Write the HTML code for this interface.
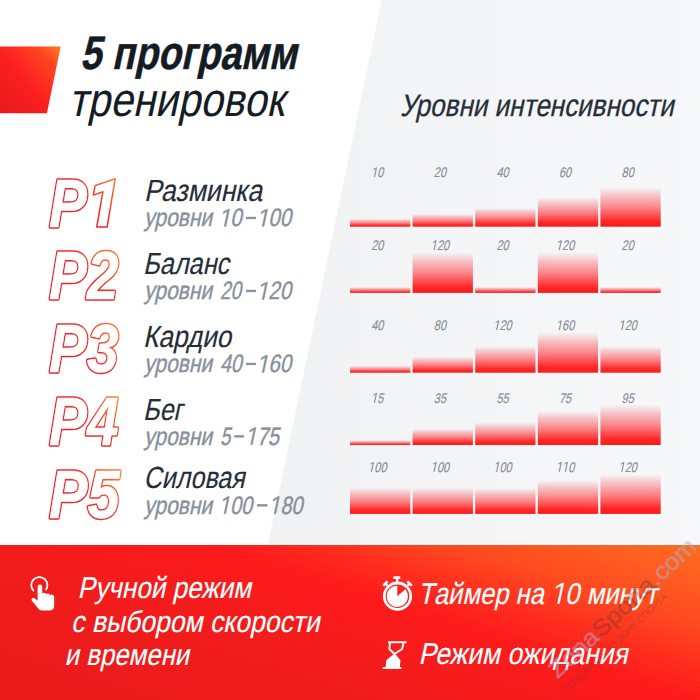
<!DOCTYPE html>
<html><head><meta charset="utf-8">
<style>
html,body{margin:0;padding:0;width:700px;height:700px;overflow:hidden;background:#fff}
svg{display:block}
text{font-family:"Liberation Sans",sans-serif}
</style></head><body>
<svg width="700" height="700" viewBox="0 0 700 700">
<defs>
  <linearGradient id="bgGray" x1="0" y1="0" x2="1" y2="0">
    <stop offset="0" stop-color="#f1f2f4"/>
    <stop offset="1" stop-color="#f7f8fa"/>
  </linearGradient>
  <linearGradient id="redTL" x1="0" y1="1" x2="1" y2="0">
    <stop offset="0" stop-color="#e61a1c"/>
    <stop offset="0.45" stop-color="#fb1f1f"/>
    <stop offset="0.8" stop-color="#ff4422"/>
    <stop offset="1" stop-color="#ff7a24"/>
  </linearGradient>
  <linearGradient id="band" gradientUnits="userSpaceOnUse" x1="590.2" y1="887.7" x2="700" y2="545">
    <stop offset="0" stop-color="#ea1b1b"/>
    <stop offset="0.306" stop-color="#f01c1c"/>
    <stop offset="0.583" stop-color="#fd1b1b"/>
    <stop offset="0.661" stop-color="#ff2a1e"/>
    <stop offset="0.789" stop-color="#ff4a20"/>
    <stop offset="1" stop-color="#ff6e22"/>
  </linearGradient>
  <linearGradient id="bar" x1="0" y1="1" x2="0" y2="0">
    <stop offset="0" stop-color="#ff1818" stop-opacity="1"/>
    <stop offset="0.15" stop-color="#ff1e1e" stop-opacity="0.95"/>
    <stop offset="0.5" stop-color="#ff2a2e" stop-opacity="0.55"/>
    <stop offset="0.8" stop-color="#f83a40" stop-opacity="0.27"/>
    <stop offset="0.96" stop-color="#f04a50" stop-opacity="0.07"/>
    <stop offset="1" stop-color="#f04a50" stop-opacity="0.02"/>
  </linearGradient>
  <linearGradient id="pg1" gradientUnits="userSpaceOnUse" x1="55" y1="230.5" x2="118" y2="176.3"><stop offset="0" stop-color="#ec1f26"/><stop offset="0.55" stop-color="#f02a2a"/><stop offset="1" stop-color="#ff8230"/></linearGradient>
  <linearGradient id="pg2" gradientUnits="userSpaceOnUse" x1="55" y1="303.0" x2="118" y2="249.1"><stop offset="0" stop-color="#ec1f26"/><stop offset="0.55" stop-color="#f02a2a"/><stop offset="1" stop-color="#ff8230"/></linearGradient>
  <linearGradient id="pg3" gradientUnits="userSpaceOnUse" x1="55" y1="376.2" x2="118" y2="322.3"><stop offset="0" stop-color="#ec1f26"/><stop offset="0.55" stop-color="#f02a2a"/><stop offset="1" stop-color="#ff8230"/></linearGradient>
  <linearGradient id="pg4" gradientUnits="userSpaceOnUse" x1="55" y1="449.0" x2="118" y2="395.1"><stop offset="0" stop-color="#ec1f26"/><stop offset="0.55" stop-color="#f02a2a"/><stop offset="1" stop-color="#ff8230"/></linearGradient>
  <linearGradient id="pg5" gradientUnits="userSpaceOnUse" x1="55" y1="522.0" x2="118" y2="468.0"><stop offset="0" stop-color="#ec1f26"/><stop offset="0.55" stop-color="#f02a2a"/><stop offset="1" stop-color="#ff8230"/></linearGradient>
</defs>
<rect width="700" height="700" fill="#fff"/>
<polygon points="381.7,0 700,0 700,545 267.8,545" fill="url(#bgGray)"/>
<polygon points="0,46.4 60.7,46.4 46.9,113.3 0,113.3" fill="url(#redTL)"/>
<text transform="translate(80,68.5) skewX(-12)" font-size="47" fill="#151b23" font-weight="bold" textLength="216.5" lengthAdjust="spacingAndGlyphs" stroke="#151b23" stroke-width="0.5" stroke-linejoin="round">5 программ</text>
<text transform="translate(68.8,116) skewX(-12)" font-size="47" fill="#151b23" textLength="215.2" lengthAdjust="spacingAndGlyphs" stroke="#151b23" stroke-width="0.1">тренировок</text>
<text transform="translate(400,116) skewX(-12)" font-size="31" fill="#272e39" textLength="273.5" lengthAdjust="spacingAndGlyphs" stroke="#272e39" stroke-width="0.3">Уровни интенсивности</text>
<g font-size="68" font-weight="bold" font-style="italic" stroke-linejoin="round">
<g fill="url(#pg1)" stroke="url(#pg1)" stroke-width="3.5"><text x="49" y="226.5" textLength="37.9" lengthAdjust="spacingAndGlyphs">P</text></g>
<g fill="#fff" stroke="#fff" stroke-width="0.5"><text x="49" y="226.5" textLength="37.9" lengthAdjust="spacingAndGlyphs">P</text></g>
<polygon points="115.2,178.8 95.0,185.6 93.4,195.1 102.9,191.8 96.7,227.1 107.1,227.1" fill="none" stroke="url(#pg1)" stroke-width="1.5"/>
<g fill="url(#pg2)" stroke="url(#pg2)" stroke-width="3.5"><text x="49" y="299" textLength="69.5" lengthAdjust="spacingAndGlyphs">P2</text></g>
<g fill="#fff" stroke="#fff" stroke-width="0.5"><text x="49" y="299" textLength="69.5" lengthAdjust="spacingAndGlyphs">P2</text></g>
<g fill="url(#pg3)" stroke="url(#pg3)" stroke-width="3.5"><text x="49" y="372.2" textLength="69.5" lengthAdjust="spacingAndGlyphs">P3</text></g>
<g fill="#fff" stroke="#fff" stroke-width="0.5"><text x="49" y="372.2" textLength="69.5" lengthAdjust="spacingAndGlyphs">P3</text></g>
<g fill="url(#pg4)" stroke="url(#pg4)" stroke-width="3.5"><text x="49" y="445" textLength="69.5" lengthAdjust="spacingAndGlyphs">P4</text></g>
<g fill="#fff" stroke="#fff" stroke-width="0.5"><text x="49" y="445" textLength="69.5" lengthAdjust="spacingAndGlyphs">P4</text></g>
<g fill="url(#pg5)" stroke="url(#pg5)" stroke-width="3.5"><text x="49" y="518" textLength="70.5" lengthAdjust="spacingAndGlyphs">P5</text></g>
<g fill="#fff" stroke="#fff" stroke-width="0.5"><text x="49" y="518" textLength="70.5" lengthAdjust="spacingAndGlyphs">P5</text></g>
</g>
<text transform="translate(144.0,201.2) skewX(-12)" font-size="30.5" fill="#262d38" textLength="118.0" lengthAdjust="spacingAndGlyphs" stroke="#262d38" stroke-width="0.15">Разминка</text>
<text transform="translate(143,274.1) skewX(-12)" font-size="30.5" fill="#262d38" textLength="86.0" lengthAdjust="spacingAndGlyphs" stroke="#262d38" stroke-width="0.15">Баланс</text>
<text transform="translate(143,347.1) skewX(-12)" font-size="30.5" fill="#262d38" textLength="88.0" lengthAdjust="spacingAndGlyphs" stroke="#262d38" stroke-width="0.15">Кардио</text>
<text transform="translate(143,420) skewX(-12)" font-size="30.5" fill="#262d38" textLength="39.5" lengthAdjust="spacingAndGlyphs" stroke="#262d38" stroke-width="0.15">Бег</text>
<text transform="translate(143.5,488.4) skewX(-12)" font-size="30.5" fill="#262d38" textLength="101.0" lengthAdjust="spacingAndGlyphs" stroke="#262d38" stroke-width="0.15">Силовая</text>
<text transform="translate(144.0,226.4) skewX(-12)" font-size="25" fill="#87909b" textLength="68.09" lengthAdjust="spacingAndGlyphs" stroke="#87909b" stroke-width="0.4">уровни</text>
<g transform="translate(219.0,226.4) skewX(-12)"><text font-size="25" fill="#87909b" stroke="#87909b" stroke-width="0.4" textLength="22.68" lengthAdjust="spacingAndGlyphs"> 0</text><path transform="scale(0.00996,-0.01221) translate(0,0)" d="M515,0 L700,0 L700,1409 L545,1409 L130,1195 L130,1035 L515,1222 Z" fill="#87909b" stroke="#87909b" stroke-width="0.4" vector-effect="non-scaling-stroke"/></g>
<g transform="translate(257.0,226.4) skewX(-12)"><text font-size="25" fill="#87909b" stroke="#87909b" stroke-width="0.4" textLength="34.08" lengthAdjust="spacingAndGlyphs"> 00</text><path transform="scale(0.00997,-0.01221) translate(0,0)" d="M515,0 L700,0 L700,1409 L545,1409 L130,1195 L130,1035 L515,1222 Z" fill="#87909b" stroke="#87909b" stroke-width="0.4" vector-effect="non-scaling-stroke"/></g>
<rect x="246.0" y="216.8" width="9.9" height="2.3" fill="#87909b"/>
<text transform="translate(144.0,299.4) skewX(-12)" font-size="25" fill="#87909b" textLength="68.09" lengthAdjust="spacingAndGlyphs" stroke="#87909b" stroke-width="0.4">уровни</text>
<g transform="translate(220.0,299.4) skewX(-12)"><text font-size="25" fill="#87909b" stroke="#87909b" stroke-width="0.4" textLength="20.76" lengthAdjust="spacingAndGlyphs">20</text></g>
<g transform="translate(257.0,299.4) skewX(-12)"><text font-size="25" fill="#87909b" stroke="#87909b" stroke-width="0.4" textLength="34.08" lengthAdjust="spacingAndGlyphs"> 20</text><path transform="scale(0.00997,-0.01221) translate(0,0)" d="M515,0 L700,0 L700,1409 L545,1409 L130,1195 L130,1035 L515,1222 Z" fill="#87909b" stroke="#87909b" stroke-width="0.4" vector-effect="non-scaling-stroke"/></g>
<rect x="246.0" y="289.8" width="9.9" height="2.3" fill="#87909b"/>
<text transform="translate(144.0,372.4) skewX(-12)" font-size="25" fill="#87909b" textLength="68.09" lengthAdjust="spacingAndGlyphs" stroke="#87909b" stroke-width="0.4">уровни</text>
<g transform="translate(220.0,372.4) skewX(-12)"><text font-size="25" fill="#87909b" stroke="#87909b" stroke-width="0.4" textLength="21.59" lengthAdjust="spacingAndGlyphs">40</text></g>
<g transform="translate(257.0,372.4) skewX(-12)"><text font-size="25" fill="#87909b" stroke="#87909b" stroke-width="0.4" textLength="34.08" lengthAdjust="spacingAndGlyphs"> 60</text><path transform="scale(0.00997,-0.01221) translate(0,0)" d="M515,0 L700,0 L700,1409 L545,1409 L130,1195 L130,1035 L515,1222 Z" fill="#87909b" stroke="#87909b" stroke-width="0.4" vector-effect="non-scaling-stroke"/></g>
<rect x="246.0" y="362.8" width="9.9" height="2.3" fill="#87909b"/>
<text transform="translate(144.0,444.8) skewX(-12)" font-size="25" fill="#87909b" textLength="68.09" lengthAdjust="spacingAndGlyphs" stroke="#87909b" stroke-width="0.4">уровни</text>
<g transform="translate(220.0,444.8) skewX(-12)"><text font-size="25" fill="#87909b" stroke="#87909b" stroke-width="0.4" textLength="10.19" lengthAdjust="spacingAndGlyphs">5</text></g>
<g transform="translate(245.5,444.8) skewX(-12)"><text font-size="25" fill="#87909b" stroke="#87909b" stroke-width="0.4" textLength="33.53" lengthAdjust="spacingAndGlyphs"> 75</text><path transform="scale(0.00981,-0.01221) translate(0,0)" d="M515,0 L700,0 L700,1409 L545,1409 L130,1195 L130,1035 L515,1222 Z" fill="#87909b" stroke="#87909b" stroke-width="0.4" vector-effect="non-scaling-stroke"/></g>
<rect x="234.2" y="435.2" width="9.9" height="2.3" fill="#87909b"/>
<text transform="translate(144.0,513.8) skewX(-12)" font-size="25" fill="#87909b" textLength="68.09" lengthAdjust="spacingAndGlyphs" stroke="#87909b" stroke-width="0.4">уровни</text>
<g transform="translate(219.0,513.8) skewX(-12)"><text font-size="25" fill="#87909b" stroke="#87909b" stroke-width="0.4" textLength="33.08" lengthAdjust="spacingAndGlyphs"> 00</text><path transform="scale(0.00968,-0.01221) translate(0,0)" d="M515,0 L700,0 L700,1409 L545,1409 L130,1195 L130,1035 L515,1222 Z" fill="#87909b" stroke="#87909b" stroke-width="0.4" vector-effect="non-scaling-stroke"/></g>
<g transform="translate(269.0,513.8) skewX(-12)"><text font-size="25" fill="#87909b" stroke="#87909b" stroke-width="0.4" textLength="33.52" lengthAdjust="spacingAndGlyphs"> 80</text><path transform="scale(0.00981,-0.01221) translate(0,0)" d="M515,0 L700,0 L700,1409 L545,1409 L130,1195 L130,1035 L515,1222 Z" fill="#87909b" stroke="#87909b" stroke-width="0.4" vector-effect="non-scaling-stroke"/></g>
<rect x="257.0" y="504.2" width="10.5" height="2.3" fill="#87909b"/>
<g>
<rect x="350.0" y="219.0" width="60.3" height="7.7" fill="url(#bar)"/>
<rect x="412.6" y="214.2" width="60.3" height="12.5" fill="url(#bar)"/>
<rect x="475.2" y="208.3" width="60.3" height="18.4" fill="url(#bar)"/>
<rect x="537.8" y="197.7" width="60.3" height="29.0" fill="url(#bar)"/>
<rect x="600.4" y="187.5" width="60.3" height="39.2" fill="url(#bar)"/>
<g transform="translate(371.2,177.1) skewX(-12)"><text font-size="14" fill="#858d98" stroke="#858d98" stroke-width="0.15" textLength="12.2" lengthAdjust="spacingAndGlyphs" style="font-kerning:none" > 0</text><path transform="scale(0.00536,-0.00684) translate(0,0)" d="M515,0 L700,0 L700,1409 L545,1409 L130,1195 L130,1035 L515,1222 Z" fill="#858d98" stroke="#858d98" stroke-width="0.15" vector-effect="non-scaling-stroke"/></g>
<g transform="translate(433.8,177.1) skewX(-12)"><text font-size="14" fill="#858d98" stroke="#858d98" stroke-width="0.15" textLength="12.2" lengthAdjust="spacingAndGlyphs" style="font-kerning:none" >20</text></g>
<g transform="translate(496.4,177.1) skewX(-12)"><text font-size="14" fill="#858d98" stroke="#858d98" stroke-width="0.15" textLength="12.2" lengthAdjust="spacingAndGlyphs" style="font-kerning:none" >40</text></g>
<g transform="translate(559.0,177.1) skewX(-12)"><text font-size="14" fill="#858d98" stroke="#858d98" stroke-width="0.15" textLength="12.2" lengthAdjust="spacingAndGlyphs" style="font-kerning:none" >60</text></g>
<g transform="translate(621.6,177.1) skewX(-12)"><text font-size="14" fill="#858d98" stroke="#858d98" stroke-width="0.15" textLength="12.2" lengthAdjust="spacingAndGlyphs" style="font-kerning:none" >80</text></g>
<rect x="350.0" y="287.1" width="60.3" height="5.8" fill="url(#bar)"/>
<rect x="412.6" y="252.9" width="60.3" height="40.0" fill="url(#bar)"/>
<rect x="475.2" y="287.1" width="60.3" height="5.8" fill="url(#bar)"/>
<rect x="537.8" y="252.9" width="60.3" height="40.0" fill="url(#bar)"/>
<rect x="600.4" y="287.1" width="60.3" height="5.8" fill="url(#bar)"/>
<g transform="translate(371.2,250.0) skewX(-12)"><text font-size="14" fill="#858d98" stroke="#858d98" stroke-width="0.15" textLength="12.2" lengthAdjust="spacingAndGlyphs" style="font-kerning:none" >20</text></g>
<g transform="translate(430.8,250.0) skewX(-12)"><text font-size="14" fill="#858d98" stroke="#858d98" stroke-width="0.15" textLength="18.3" lengthAdjust="spacingAndGlyphs" style="font-kerning:none" > 20</text><path transform="scale(0.00536,-0.00684) translate(0,0)" d="M515,0 L700,0 L700,1409 L545,1409 L130,1195 L130,1035 L515,1222 Z" fill="#858d98" stroke="#858d98" stroke-width="0.15" vector-effect="non-scaling-stroke"/></g>
<g transform="translate(496.4,250.0) skewX(-12)"><text font-size="14" fill="#858d98" stroke="#858d98" stroke-width="0.15" textLength="12.2" lengthAdjust="spacingAndGlyphs" style="font-kerning:none" >20</text></g>
<g transform="translate(556.0,250.0) skewX(-12)"><text font-size="14" fill="#858d98" stroke="#858d98" stroke-width="0.15" textLength="18.3" lengthAdjust="spacingAndGlyphs" style="font-kerning:none" > 20</text><path transform="scale(0.00536,-0.00684) translate(0,0)" d="M515,0 L700,0 L700,1409 L545,1409 L130,1195 L130,1035 L515,1222 Z" fill="#858d98" stroke="#858d98" stroke-width="0.15" vector-effect="non-scaling-stroke"/></g>
<g transform="translate(621.6,250.0) skewX(-12)"><text font-size="14" fill="#858d98" stroke="#858d98" stroke-width="0.15" textLength="12.2" lengthAdjust="spacingAndGlyphs" style="font-kerning:none" >20</text></g>
<rect x="350.0" y="366.0" width="60.3" height="6.7" fill="url(#bar)"/>
<rect x="412.6" y="356.9" width="60.3" height="15.8" fill="url(#bar)"/>
<rect x="475.2" y="346.4" width="60.3" height="26.3" fill="url(#bar)"/>
<rect x="537.8" y="332.9" width="60.3" height="39.8" fill="url(#bar)"/>
<rect x="600.4" y="346.3" width="60.3" height="26.4" fill="url(#bar)"/>
<g transform="translate(371.2,330.1) skewX(-12)"><text font-size="14" fill="#858d98" stroke="#858d98" stroke-width="0.15" textLength="12.2" lengthAdjust="spacingAndGlyphs" style="font-kerning:none" >40</text></g>
<g transform="translate(433.8,330.1) skewX(-12)"><text font-size="14" fill="#858d98" stroke="#858d98" stroke-width="0.15" textLength="12.2" lengthAdjust="spacingAndGlyphs" style="font-kerning:none" >80</text></g>
<g transform="translate(493.4,330.1) skewX(-12)"><text font-size="14" fill="#858d98" stroke="#858d98" stroke-width="0.15" textLength="18.3" lengthAdjust="spacingAndGlyphs" style="font-kerning:none" > 20</text><path transform="scale(0.00536,-0.00684) translate(0,0)" d="M515,0 L700,0 L700,1409 L545,1409 L130,1195 L130,1035 L515,1222 Z" fill="#858d98" stroke="#858d98" stroke-width="0.15" vector-effect="non-scaling-stroke"/></g>
<g transform="translate(556.0,330.1) skewX(-12)"><text font-size="14" fill="#858d98" stroke="#858d98" stroke-width="0.15" textLength="18.3" lengthAdjust="spacingAndGlyphs" style="font-kerning:none" > 60</text><path transform="scale(0.00536,-0.00684) translate(0,0)" d="M515,0 L700,0 L700,1409 L545,1409 L130,1195 L130,1035 L515,1222 Z" fill="#858d98" stroke="#858d98" stroke-width="0.15" vector-effect="non-scaling-stroke"/></g>
<g transform="translate(618.6,330.1) skewX(-12)"><text font-size="14" fill="#858d98" stroke="#858d98" stroke-width="0.15" textLength="18.3" lengthAdjust="spacingAndGlyphs" style="font-kerning:none" > 20</text><path transform="scale(0.00536,-0.00684) translate(0,0)" d="M515,0 L700,0 L700,1409 L545,1409 L130,1195 L130,1035 L515,1222 Z" fill="#858d98" stroke="#858d98" stroke-width="0.15" vector-effect="non-scaling-stroke"/></g>
<rect x="350.0" y="440.3" width="60.3" height="4.7" fill="url(#bar)"/>
<rect x="412.6" y="429.1" width="60.3" height="15.9" fill="url(#bar)"/>
<rect x="475.2" y="422.7" width="60.3" height="22.3" fill="url(#bar)"/>
<rect x="537.8" y="411.3" width="60.3" height="33.7" fill="url(#bar)"/>
<rect x="600.4" y="405.0" width="60.3" height="40.0" fill="url(#bar)"/>
<g transform="translate(371.2,402.7) skewX(-12)"><text font-size="14" fill="#858d98" stroke="#858d98" stroke-width="0.15" textLength="12.2" lengthAdjust="spacingAndGlyphs" style="font-kerning:none" > 5</text><path transform="scale(0.00536,-0.00684) translate(0,0)" d="M515,0 L700,0 L700,1409 L545,1409 L130,1195 L130,1035 L515,1222 Z" fill="#858d98" stroke="#858d98" stroke-width="0.15" vector-effect="non-scaling-stroke"/></g>
<g transform="translate(433.8,402.7) skewX(-12)"><text font-size="14" fill="#858d98" stroke="#858d98" stroke-width="0.15" textLength="12.2" lengthAdjust="spacingAndGlyphs" style="font-kerning:none" >35</text></g>
<g transform="translate(496.4,402.7) skewX(-12)"><text font-size="14" fill="#858d98" stroke="#858d98" stroke-width="0.15" textLength="12.2" lengthAdjust="spacingAndGlyphs" style="font-kerning:none" >55</text></g>
<g transform="translate(559.0,402.7) skewX(-12)"><text font-size="14" fill="#858d98" stroke="#858d98" stroke-width="0.15" textLength="12.2" lengthAdjust="spacingAndGlyphs" style="font-kerning:none" >75</text></g>
<g transform="translate(621.6,402.7) skewX(-12)"><text font-size="14" fill="#858d98" stroke="#858d98" stroke-width="0.15" textLength="12.2" lengthAdjust="spacingAndGlyphs" style="font-kerning:none" >95</text></g>
<rect x="350.0" y="488.1" width="60.3" height="25.8" fill="url(#bar)"/>
<rect x="412.6" y="488.1" width="60.3" height="25.8" fill="url(#bar)"/>
<rect x="475.2" y="488.4" width="60.3" height="25.5" fill="url(#bar)"/>
<rect x="537.8" y="480.7" width="60.3" height="33.2" fill="url(#bar)"/>
<rect x="600.4" y="474.4" width="60.3" height="39.5" fill="url(#bar)"/>
<g transform="translate(368.2,471.7) skewX(-12)"><text font-size="14" fill="#858d98" stroke="#858d98" stroke-width="0.15" textLength="18.3" lengthAdjust="spacingAndGlyphs" style="font-kerning:none" > 00</text><path transform="scale(0.00536,-0.00684) translate(0,0)" d="M515,0 L700,0 L700,1409 L545,1409 L130,1195 L130,1035 L515,1222 Z" fill="#858d98" stroke="#858d98" stroke-width="0.15" vector-effect="non-scaling-stroke"/></g>
<g transform="translate(430.8,471.7) skewX(-12)"><text font-size="14" fill="#858d98" stroke="#858d98" stroke-width="0.15" textLength="18.3" lengthAdjust="spacingAndGlyphs" style="font-kerning:none" > 00</text><path transform="scale(0.00536,-0.00684) translate(0,0)" d="M515,0 L700,0 L700,1409 L545,1409 L130,1195 L130,1035 L515,1222 Z" fill="#858d98" stroke="#858d98" stroke-width="0.15" vector-effect="non-scaling-stroke"/></g>
<g transform="translate(493.4,471.7) skewX(-12)"><text font-size="14" fill="#858d98" stroke="#858d98" stroke-width="0.15" textLength="18.3" lengthAdjust="spacingAndGlyphs" style="font-kerning:none" > 00</text><path transform="scale(0.00536,-0.00684) translate(0,0)" d="M515,0 L700,0 L700,1409 L545,1409 L130,1195 L130,1035 L515,1222 Z" fill="#858d98" stroke="#858d98" stroke-width="0.15" vector-effect="non-scaling-stroke"/></g>
<g transform="translate(556.0,471.7) skewX(-12)"><text font-size="14" fill="#858d98" stroke="#858d98" stroke-width="0.15" textLength="18.3" lengthAdjust="spacingAndGlyphs" style="font-kerning:none" >  0</text><path transform="scale(0.00536,-0.00684) translate(0,0)" d="M515,0 L700,0 L700,1409 L545,1409 L130,1195 L130,1035 L515,1222 Z" fill="#858d98" stroke="#858d98" stroke-width="0.15" vector-effect="non-scaling-stroke"/><path transform="scale(0.00536,-0.00684) translate(1139,0)" d="M515,0 L700,0 L700,1409 L545,1409 L130,1195 L130,1035 L515,1222 Z" fill="#858d98" stroke="#858d98" stroke-width="0.15" vector-effect="non-scaling-stroke"/></g>
<g transform="translate(618.6,471.7) skewX(-12)"><text font-size="14" fill="#858d98" stroke="#858d98" stroke-width="0.15" textLength="18.3" lengthAdjust="spacingAndGlyphs" style="font-kerning:none" > 20</text><path transform="scale(0.00536,-0.00684) translate(0,0)" d="M515,0 L700,0 L700,1409 L545,1409 L130,1195 L130,1035 L515,1222 Z" fill="#858d98" stroke="#858d98" stroke-width="0.15" vector-effect="non-scaling-stroke"/></g>
</g>
<rect x="0" y="545" width="700" height="155" fill="url(#band)"/>
<g fill="#fff">
  <path d="M33.9,591.2 A8.1,8.1 0 1 1 45.6,590.3" fill="none" stroke="#fff" stroke-width="1.8"/>
  <path d="M37.6,586.8 A2.3,2.3 0 0 1 42.2,586.8 L42.2,593.6 A2.3,2.3 0 0 1 46.0,594.1 A2.3,2.3 0 0 1 49.9,595.2 A2.8,2.8 0 0 1 54.2,596.4 L54.2,605.6 Q54.2,610.6 49.2,610.6 L42.2,610.6 Q40.2,610.6 38.9,609.2 L32.1,601.1 A1.65,1.65 0 0 1 34.6,598.3 L37.6,600.8 Z"/>
  <circle cx="397.5" cy="596.2" r="13.2" fill="none" stroke="#fff" stroke-width="2.8"/>
  <path d="M397.3,596.3 L405.3,589.35 A10.6,10.6 0 1 1 397.3,585.7 Z"/>
  <rect x="393.3" y="576.2" width="7" height="2.9" rx="0.6"/>
  <rect x="396.1" y="578.5" width="2.2" height="3.6"/>
  <g transform="translate(385.4,583.6) rotate(-44)"><rect x="-3.1" y="-1.3" width="6.2" height="2.6" rx="0.5"/><rect x="-1" y="0" width="2" height="3"/></g>
  <g transform="translate(409.6,583.6) rotate(44)"><rect x="-3.1" y="-1.3" width="6.2" height="2.6" rx="0.5"/><rect x="-1" y="0" width="2" height="3"/></g>
  <rect x="388" y="641.3" width="18.6" height="1.9"/>
  <rect x="382.7" y="667" width="18.7" height="1.9"/>
  <polyline points="389.9,643 389.4,649 394.4,654 402.1,649 403.5,643" fill="none" stroke="#fff" stroke-width="1.9" stroke-linejoin="round"/>
  <polygon points="393.6,654.3 395.5,654.3 400.4,660.3 399.9,667.5 385.6,667.5 386.3,660.3"/>
</g>
<text transform="translate(77.5,598) skewX(-12)" font-size="30" fill="#fff" textLength="173.5" lengthAdjust="spacingAndGlyphs" stroke="#fff" stroke-width="0.15">Ручной режим</text>
<text transform="translate(71.0,631.8) skewX(-12)" font-size="30" fill="#fff" textLength="248.5" lengthAdjust="spacingAndGlyphs" stroke="#fff" stroke-width="0.15">с выбором скорости</text>
<text transform="translate(64.5,664.8) skewX(-12)" font-size="30" fill="#fff" textLength="124.5" lengthAdjust="spacingAndGlyphs" stroke="#fff" stroke-width="0.15">и времени</text>
<g transform="translate(418.0,603.7) skewX(-12)"><text font-size="30" fill="#fff" stroke="#fff" stroke-width="0.15" textLength="239.0" lengthAdjust="spacingAndGlyphs" style="font-kerning:none" >Таймер на  0 минут</text><path transform="scale(0.01250,-0.01465) translate(10628,0)" d="M515,0 L700,0 L700,1409 L545,1409 L130,1195 L130,1035 L515,1222 Z" fill="#fff" stroke="#fff" stroke-width="0.15" vector-effect="non-scaling-stroke"/></g>
<text transform="translate(418.5,664.3) skewX(-12)" font-size="30" fill="#fff" textLength="209.0" lengthAdjust="spacingAndGlyphs" stroke="#fff" stroke-width="0.15">Режим ожидания</text>
<g opacity="0.5"><text transform="translate(557.4,679.2) rotate(-43)" font-size="23.5" textLength="192" lengthAdjust="spacingAndGlyphs" stroke-width="0.5" stroke-linejoin="round"><tspan fill="#a3b3d0" stroke="#a3b3d0">Zona</tspan><tspan fill="none">Sporta</tspan><tspan fill="#a3b3d0" stroke="#a3b3d0">.com</tspan></text></g>
<g opacity="0.3"><text transform="translate(557.4,679.2) rotate(-43)" font-size="23.5" textLength="192" lengthAdjust="spacingAndGlyphs" stroke-width="0.5" stroke-linejoin="round"><tspan fill="none">Zona</tspan><tspan fill="#383844" stroke="#383844">Sporta</tspan><tspan fill="none">.com</tspan></text></g>
<g opacity="0.28"><text transform="translate(567,693) rotate(-43.5)" font-size="9.3" fill="#3a3a44" textLength="139" lengthAdjust="spacingAndGlyphs">СОЗДАЙ СВОЮ ЗОНУ СПОРТА</text></g>
</svg>
</body></html>
